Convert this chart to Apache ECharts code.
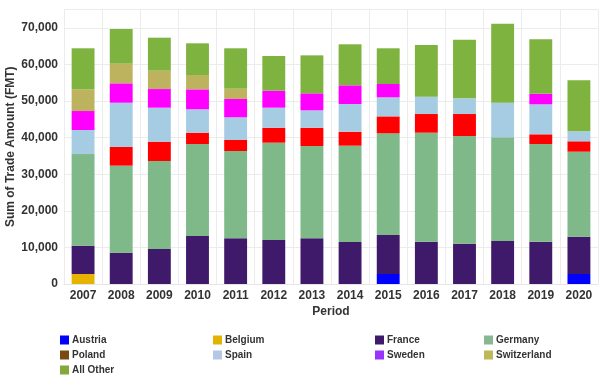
<!DOCTYPE html>
<html>
<head>
<meta charset="utf-8">
<script src="https://cdn.jsdelivr.net/npm/echarts@6/dist/echarts.min.js"></script>
<style>html,body{margin:0;padding:0;background:#fff}#c{width:600px;height:375px}</style>
</head>
<body>
<div id="c"></div>
<script>
var periods = ['2007','2008','2009','2010','2011','2012','2013','2014','2015','2016','2017','2018','2019','2020'];
var austria     = [0,0,0,0,0,0,0,0,2730,0,0,0,0,2730];
var belgium     = [2730,0,0,0,0,0,0,0,0,0,0,0,0,0];
var france      = [7730,8560,9560,13110,12480,12020,12480,11470,10660,11560,11010,11750,11560,10200];
var germany     = [25040,23770,24040,25140,23860,26590,25220,26320,27780,29780,29420,28330,26690,23220];
var poland      = [0,5100,5280,3090,3000,4090,5000,3820,4630,5100,6010,0,2650,2840];
var spain       = [6570,12100,9290,6390,6200,5470,4750,7570,5200,4740,4290,9450,8190,2730];
var sweden      = [5190,5300,5100,5460,5000,4640,4650,5100,3640,0,0,0,2900,0];
var switzerland = [5940,5360,5010,3910,2820,0,0,0,0,0,0,0,0,0];
var allOther    = [11200,9480,9020,8660,11040,9480,10370,11210,9760,14120,16020,21580,14850,13930];
var yTicks = [0,10000,20000,30000,40000,50000,60000,70000];

var seriesDefs = [
  {name:'Austria', data:austria, color:'#0000ff', legend:'#0000ff'},
  {name:'Belgium', data:belgium, color:'#e6b400', legend:'#e0b400'},
  {name:'France', data:france, color:'#3f1a6b', legend:'#3f1a6b'},
  {name:'Germany', data:germany, color:'#7fb98a', legend:'#86b894'},
  {name:'Poland', data:poland, color:'#ff0000', legend:'#7a4a10'},
  {name:'Spain', data:spain, color:'#a6cce3', legend:'#b4c8e6'},
  {name:'Sweden', data:sweden, color:'#ff00ff', legend:'#9933ff'},
  {name:'Switzerland', data:switzerland, color:'#bdb35f', legend:'#bdb85a'},
  {name:'All Other', data:allOther, color:'#7fb33f', legend:'#84a83c'}
];
function legendColor(n){for(var i=0;i<seriesDefs.length;i++){if(seriesDefs[i].name===n)return seriesDefs[i].legend;}}
function mkLegend(left, names){
  return {
    orient:'vertical', left:left, top:335, height:60, itemWidth:9, itemHeight:9, itemGap:5,
    icon:'rect', selectedMode:false, padding:0,
    textStyle:{fontFamily:'Liberation Sans, Arial', fontSize:10, fontWeight:'bold', color:'#333', padding:[0,0,0,-2]},
    data:names.map(function(n){return {name:n, itemStyle:{color:legendColor(n)}};})
  };
}
var chart = echarts.init(document.getElementById('c'), null, {renderer:'canvas'});
chart.setOption({
  animation:false,
  textStyle:{fontFamily:'Liberation Sans, Arial'},
  grid:{left:64, right:2, top:9.5, bottom:91, outerBoundsMode:'none', containLabel:false},
  legend:[
    mkLegend(60, ['Austria','Poland','All Other']),
    mkLegend(213, ['Belgium','Spain']),
    mkLegend(375, ['France','Sweden']),
    mkLegend(484, ['Germany','Switzerland'])
  ],
  xAxis:{
    type:'category', data:periods,
    name:'Period', nameLocation:'middle', nameGap:22, nameMoveOverlap:false,
    nameTextStyle:{fontSize:12, fontWeight:'bold', color:'#333'},
    axisLine:{show:true, lineStyle:{color:'#e6e6e6'}},
    axisTick:{show:false},
    axisLabel:{fontSize:12, fontWeight:'bold', color:'#333', margin:6},
    splitLine:{show:true, lineStyle:{color:'#ececec'}}
  },
  yAxis:{
    type:'value', min:0, max:75000, interval:10000,
    name:'Sum of Trade Amount (FMT)', nameLocation:'middle', nameGap:47, nameMoveOverlap:false,
    nameTextStyle:{fontSize:12, fontWeight:'bold', color:'#333'},
    axisLine:{show:false}, axisTick:{show:false},
    axisLabel:{fontSize:12, fontWeight:'bold', color:'#333', margin:6, showMaxLabel:false,
      formatter:function(v){return yTicks.indexOf(v)>=0 ? v.toLocaleString('en-US') : '';}},
    splitLine:{show:true, lineStyle:{color:'#ececec'}}
  },
  series:seriesDefs.map(function(s){
    return {name:s.name, type:'bar', stack:'total', data:s.data, barWidth:'60%',
      itemStyle:{color:s.color}};
  })
});
</script>
</body>
</html>
